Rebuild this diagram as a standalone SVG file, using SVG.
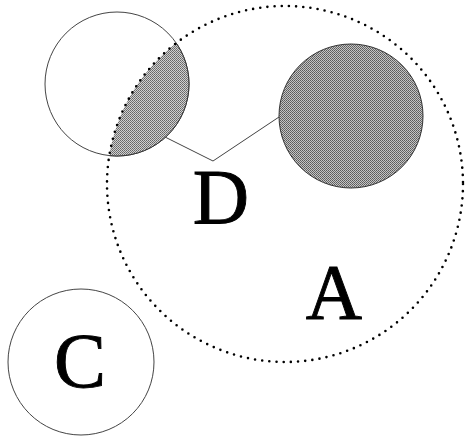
<svg xmlns="http://www.w3.org/2000/svg" width="466" height="436" viewBox="0 0 466 436">
<style>
.thin{fill:none;stroke:#444;stroke-width:1}
.dot{fill:none;stroke:#000;stroke-width:2.6;stroke-dasharray:0 7.2;stroke-linecap:round}
.lbl{font-family:"Liberation Serif","Times New Roman",serif;font-size:78px;fill:#000;stroke:#000;stroke-width:0.9;text-anchor:middle}
</style>
<defs>
<pattern id="dither" width="2" height="2" patternUnits="userSpaceOnUse">
<rect width="2" height="2" fill="#c4c4c4"/>
<rect width="1" height="1" fill="#5a5a5a"/>
<rect x="1" y="1" width="1" height="1" fill="#6a6a6a"/>
</pattern>
<pattern id="dither2" width="2" height="2" patternUnits="userSpaceOnUse">
<rect width="2" height="2" fill="#d0d0d0"/>
<rect width="1" height="1" fill="#666"/>
<rect x="1" y="1" width="1" height="1" fill="#777"/>
</pattern>
<clipPath id="clipA"><circle cx="285" cy="184" r="178"/></clipPath>
</defs>
<rect width="466" height="436" fill="#fff"/>
<g id="connectors">
<polyline class="thin" points="165,137 213,161 279,117"/>
</g>
<g id="node-D">
<circle cx="117" cy="84" r="72" fill="#fff" stroke="#444" stroke-width="1"/>
<circle cx="117" cy="84" r="72" fill="url(#dither2)" clip-path="url(#clipA)" stroke="#333" stroke-width="1"/>
<text class="lbl" x="221" y="223">D</text>
</g>
<g id="node-A">
<circle class="dot" cx="285" cy="184" r="178"/>
<text class="lbl" x="334" y="318">A</text>
</g>
<g id="node-B">
<circle cx="351" cy="116" r="72" fill="url(#dither)" stroke="#333" stroke-width="1"/>
</g>
<g id="node-C">
<circle class="thin" cx="81" cy="362" r="73"/>
<text class="lbl" x="80" y="387">C</text>
</g>
</svg>
